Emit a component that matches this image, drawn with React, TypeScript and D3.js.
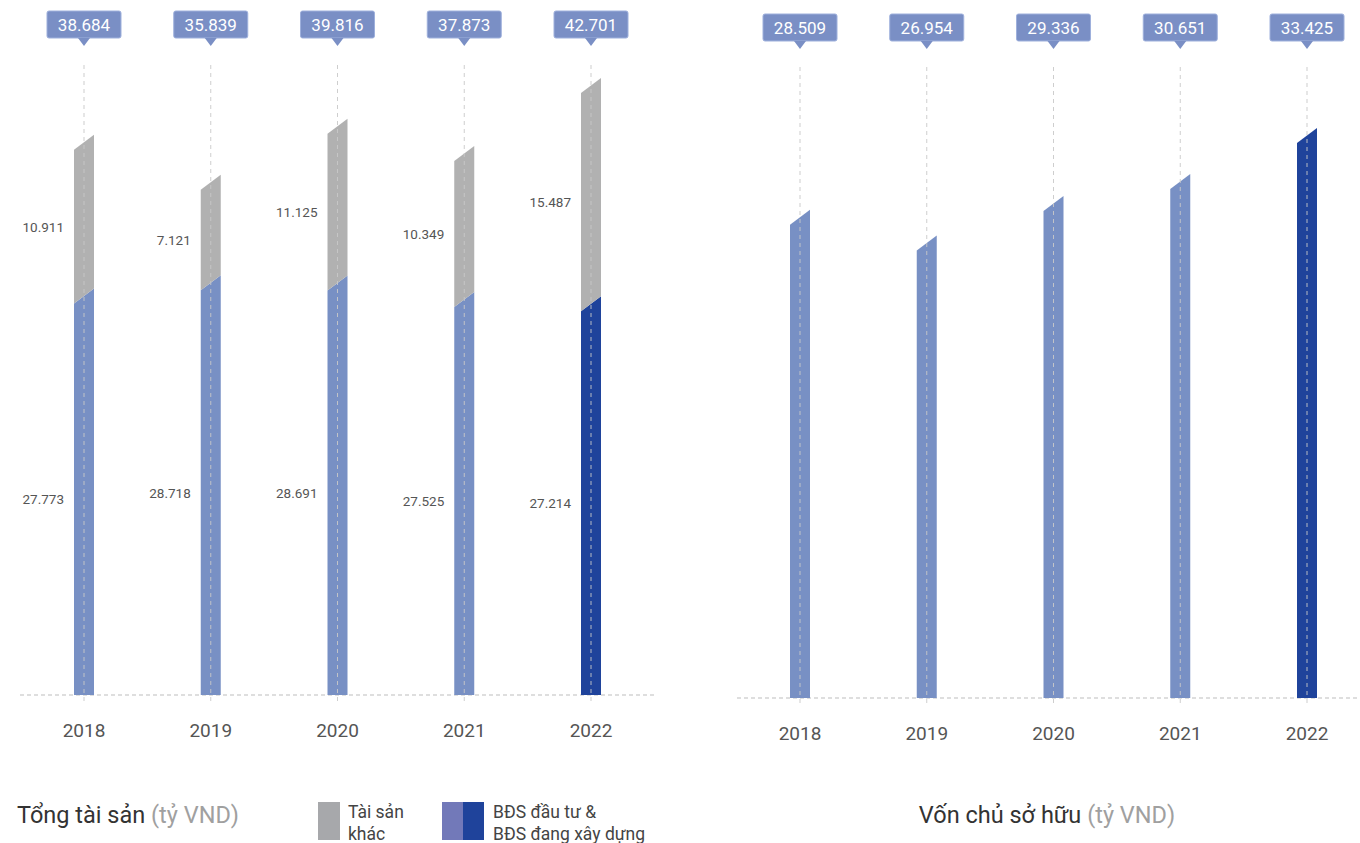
import React from "react";
import * as d3 from "d3";

const years = ["2018", "2019", "2020", "2021", "2022"];
const investProperty = [27.773, 28.718, 28.691, 27.525, 27.214];
const otherAssets = [10.911, 7.121, 11.125, 10.349, 15.487];
const totalAssets = [38.684, 35.839, 39.816, 37.873, 42.701];
const equity = [28.509, 26.954, 29.336, 30.651, 33.425];

const fmt = (v: number) => v.toFixed(3);

const C_LIGHT = "#7890c4";
const C_DARK = "#1f439b";
const C_GRAY = "#b1b1b1";
const C_BOX = "#7a8fc5";
const FONT = "Roboto, 'Noto Sans', sans-serif";

const W = 1360;
const H = 843;
const BAR_W = 20;
const SLANT = 15;

function segPath(cx: number, y0: number, y1: number, flatBottom: boolean) {
  const l = cx - BAR_W / 2;
  const r = cx + BAR_W / 2;
  const yb = flatBottom ? y0 : y0 - SLANT;
  return `M${l},${y0}L${r},${yb}L${r},${y1 - SLANT}L${l},${y1}Z`;
}

function Callout({ x, y, text }: { x: number; y: number; text: string }) {
  const w = 74;
  const h = 27;
  return (
    <g>
      <rect x={x - w / 2} y={y} width={w} height={h} rx={2} fill={C_BOX} stroke="#9eb0dc" strokeWidth={1} />
      <path d={`M${x - 6},${y + h}L${x + 6},${y + h}L${x},${y + h + 8}Z`} fill={C_BOX} />
      <text x={x} y={y + h / 2 + 6} textAnchor="middle" fill="#fff" fontSize={17} fontFamily={FONT}>
        {text}
      </text>
    </g>
  );
}

export default function App() {
  const yL = d3.scaleLinear().domain([0, d3.max(totalAssets)!]).range([695, 93]);
  const xL = d3.scalePoint<string>().domain(years).range([84, 591]);
  const yR = d3.scaleLinear().domain([0, d3.max(equity)!]).range([698, 143]);
  const xR = d3.scalePoint<string>().domain(years).range([800, 1307]);

  return (
    <svg width={W} height={H} style={{ position: "absolute", left: 0, top: 0 }}>
      <rect width={W} height={H} fill="#fff" />
      {/* left chart */}
      <line x1={20} x2={655} y1={695} y2={695} stroke="#bdbdbd" strokeDasharray="4,3" />
      {years.map((yr, i) => {
        const cx = xL(yr)!;
        const last = i === years.length - 1;
        const yBlue = yL(investProperty[i]);
        const yTot = yL(investProperty[i] + otherAssets[i]);
        return (
          <g key={yr}>
            <path d={segPath(cx, yL(0), yBlue, true)} fill={last ? C_DARK : C_LIGHT} />
            <path d={segPath(cx, yBlue, yTot, false)} fill={C_GRAY} />
            <line x1={cx} x2={cx} y1={65} y2={702} stroke="#c9c9c9" strokeDasharray="4,4" opacity={0.9} />
            <Callout x={cx} y={11} text={fmt(totalAssets[i])} />
            <text x={cx - BAR_W / 2 - 10} y={(yBlue + yTot) / 2 + 5} textAnchor="end" fontSize={13.5} fill="#555" fontFamily={FONT}>
              {fmt(otherAssets[i])}
            </text>
            <text x={cx - BAR_W / 2 - 10} y={(yBlue + yL(0)) / 2 + 5} textAnchor="end" fontSize={13.5} fill="#555" fontFamily={FONT}>
              {fmt(investProperty[i])}
            </text>
            <text x={cx} y={737} textAnchor="middle" fontSize={19} fill="#555" fontFamily={FONT}>
              {yr}
            </text>
          </g>
        );
      })}
      {/* right chart */}
      <line x1={737} x2={1360} y1={698} y2={698} stroke="#bdbdbd" strokeDasharray="4,3" />
      {years.map((yr, i) => {
        const cx = xR(yr)!;
        const last = i === years.length - 1;
        return (
          <g key={"r" + yr}>
            <path d={segPath(cx, yR(0), yR(equity[i]), true)} fill={last ? C_DARK : C_LIGHT} />
            <line x1={cx} x2={cx} y1={67} y2={705} stroke="#c9c9c9" strokeDasharray="4,4" opacity={0.9} />
            <Callout x={cx} y={14} text={fmt(equity[i])} />
            <text x={cx} y={740} textAnchor="middle" fontSize={19} fill="#555" fontFamily={FONT}>
              {yr}
            </text>
          </g>
        );
      })}
      {/* titles */}
      <text x={17} y={823} fontSize={23.5} fill="#333" fontFamily={FONT}>
        Tổng tài sản <tspan fill="#a0a0a0">(tỷ VND)</tspan>
      </text>
      <text x={1047} y={823} textAnchor="middle" fontSize={23.5} fill="#333" fontFamily={FONT}>
        Vốn chủ sở hữu <tspan fill="#a0a0a0">(tỷ VND)</tspan>
      </text>
      {/* legend */}
      <rect x={318} y={802} width={22} height={38} fill="#a7a8ab" />
      <text x={348} y={818} fontSize={17.5} fill="#444" fontFamily={FONT}>Tài sản</text>
      <text x={348} y={840} fontSize={17.5} fill="#444" fontFamily={FONT}>khác</text>
      <rect x={442} y={802} width={21} height={38} fill="#7279b9" />
      <rect x={463} y={802} width={21} height={38} fill={C_DARK} />
      <text x={493} y={818} fontSize={17.5} fill="#444" fontFamily={FONT}>BĐS đầu tư &amp;</text>
      <text x={493} y={840} fontSize={17.5} fill="#444" fontFamily={FONT}>BĐS đang xây dựng</text>
    </svg>
  );
}
